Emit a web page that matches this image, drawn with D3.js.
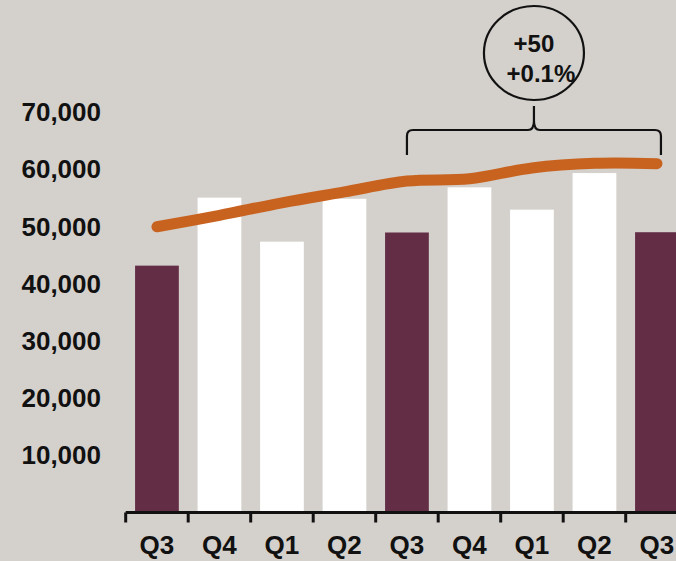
<!DOCTYPE html>
<html>
<head>
<meta charset="utf-8">
<script src="https://cdn.jsdelivr.net/npm/d3@7/dist/d3.min.js"></script>
<style>
  html, body { margin: 0; padding: 0; background: #D4D0CC; }
  svg { display: block; }
  text { font-family: "Liberation Sans", Arial, sans-serif; font-weight: bold; fill: #111; }
</style>
</head>
<body>
<svg id="chart" width="676" height="561"></svg>
<script>
// Quarterly volumes (bars) and trailing trend (line)
const quarters = ["Q3", "Q4", "Q1", "Q2", "Q3", "Q4", "Q1", "Q2", "Q3"];
const barValues = [43200, 55100, 47400, 54900, 49000, 56900, 53000, 59400, 49050];
const highlight = [true, false, false, false, true, false, false, false, true];
const trendValues = [50000, 52000, 54200, 56100, 58000, 58400, 60300, 61100, 61050];
const yTicks = [10000, 20000, 30000, 40000, 50000, 60000, 70000];
const changeLabels = ["+50", "+0.1%"];

const svg = d3.select("#chart");
const x0 = 125.7, step = 62.5;
const yBase = 512.5;

const x = d3.scaleBand()
  .domain(d3.range(quarters.length))
  .range([x0, x0 + step * quarters.length])
  .paddingInner(0.3)
  .paddingOuter(0.15);

const y = d3.scaleLinear()
  .domain([0, 70000])
  .range([yBase, 112.5]);

// bars
svg.append("g")
  .selectAll("rect")
  .data(barValues)
  .join("rect")
  .attr("x", (d, i) => x(i))
  .attr("width", x.bandwidth())
  .attr("y", d => y(d))
  .attr("height", d => yBase - y(d))
  .attr("fill", (d, i) => highlight[i] ? "#622D45" : "#FFFFFF");

// y axis labels (no domain line)
const yAxis = svg.append("g")
  .attr("transform", "translate(101,0)")
  .call(d3.axisLeft(y).tickValues(yTicks).tickSize(0).tickPadding(0).tickFormat(d3.format(",")));
yAxis.select(".domain").remove();
yAxis.selectAll("text")
  .style("font-size", "26px")
  .style("font-family", "'Liberation Sans', Arial, sans-serif")
  .style("font-weight", "bold")
  .attr("fill", "#111");

// x axis: category labels centred in each band
const xAxis = svg.append("g")
  .attr("transform", `translate(0,${yBase})`)
  .call(d3.axisBottom(x).tickSize(0).tickPadding(23).tickFormat(i => quarters[i]));
xAxis.select(".domain").remove();
xAxis.selectAll("text")
  .style("font-size", "26px")
  .style("font-family", "'Liberation Sans', Arial, sans-serif")
  .style("font-weight", "bold")
  .attr("fill", "#111");

// baseline with tick marks at the band boundaries
const boundaries = d3.range(quarters.length + 1).map(i => x0 + i * step);
svg.append("line")
  .attr("x1", x0).attr("x2", 676)
  .attr("y1", yBase).attr("y2", yBase)
  .attr("stroke", "#111").attr("stroke-width", 3);
svg.append("g")
  .selectAll("line")
  .data(boundaries)
  .join("line")
  .attr("x1", d => d).attr("x2", d => d)
  .attr("y1", yBase).attr("y2", yBase + 10)
  .attr("stroke", "#111").attr("stroke-width", 3);

// trend line through band centres
const line = d3.line()
  .x((d, i) => x(i) + x.bandwidth() / 2)
  .y(d => y(d))
  .curve(d3.curveCatmullRom.alpha(0.5));
svg.append("path")
  .datum(trendValues)
  .attr("d", line)
  .attr("fill", "none")
  .attr("stroke", "#C8621F")
  .attr("stroke-width", 11)
  .attr("stroke-linecap", "round")
  .attr("stroke-linejoin", "round");

// bracket spanning the last year (Q3 to Q3)
const bxL = x(4) + x.bandwidth() / 2;
const bxR = x(8) + x.bandwidth() / 2 + 4;
const bxM = (bxL + bxR) / 2;
const bTop = 130, bBot = 155, r = 6;
const bracket = d3.path();
bracket.moveTo(bxL, bBot);
bracket.lineTo(bxL, bTop + r);
bracket.quadraticCurveTo(bxL, bTop, bxL + r, bTop);
bracket.lineTo(bxM - r, bTop);
bracket.quadraticCurveTo(bxM, bTop, bxM, bTop - r * 1.5);
bracket.lineTo(bxM, 106);
bracket.moveTo(bxM, bTop - r * 1.5);
bracket.quadraticCurveTo(bxM, bTop, bxM + r, bTop);
bracket.lineTo(bxR - r, bTop);
bracket.quadraticCurveTo(bxR, bTop, bxR, bTop + r);
bracket.lineTo(bxR, bBot);
svg.append("path")
  .attr("d", bracket.toString())
  .attr("fill", "none")
  .attr("stroke", "#111")
  .attr("stroke-width", 2.2);

// change callout
svg.append("ellipse")
  .attr("cx", bxM).attr("cy", 53)
  .attr("rx", 50).attr("ry", 47)
  .attr("fill", "none")
  .attr("stroke", "#111")
  .attr("stroke-width", 2.2);
svg.append("text")
  .attr("x", bxM).attr("y", 52)
  .attr("text-anchor", "middle")
  .style("font-size", "24px")
  .text(changeLabels[0]);
svg.append("text")
  .attr("x", bxM + 7).attr("y", 82)
  .attr("text-anchor", "middle")
  .style("font-size", "24px")
  .text(changeLabels[1]);
</script>
</body>
</html>
